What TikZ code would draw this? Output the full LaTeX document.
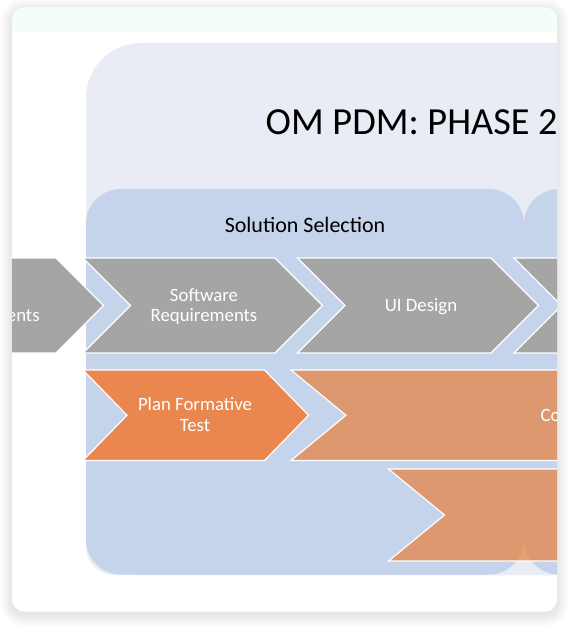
\documentclass[tikz,border=0pt]{standalone}
\usepackage{fontspec}
\setmainfont{Carlito}
\definecolor{cardtop}{HTML}{F4FCFC}
\definecolor{lav}{HTML}{E9ECF5}
\definecolor{pblue}{HTML}{C5D3EB}
\definecolor{cgray}{HTML}{A5A5A5}
\definecolor{corange}{HTML}{E9874F}
\definecolor{ocoral}{HTML}{EA7F3C}
\tikzset{
  chevshape/.style={draw=white, line width=1.2pt, line join=miter},
  graychev/.style={chevshape, fill=cgray},
  orangechev/.style={chevshape, fill=corange},
  coralchev/.style={chevshape, fill=ocoral, fill opacity=0.7},
  lab/.style={text=white, font=\fontsize{18.8}{22}\selectfont, inner sep=0pt},
  panellab/.style={text=black, font=\fontsize{22}{26}\selectfont, inner sep=0pt},
  titlelab/.style={text=black, font=\fontsize{38.3}{44}\selectfont, inner sep=0pt}
}
\begin{document}
\begin{tikzpicture}[x=1pt,y=-1pt]
\useasboundingbox (0,0) rectangle (569,628);
% soft shadow of the card
\foreach \i in {1,...,12}{
  \pgfmathsetmacro{\rr}{12+\i}
  \fill[black, opacity=0.009, rounded corners=\rr pt] (12-\i,7.5-\i+3) rectangle (557+\i,611.5+\i+3);
}
\begin{scope}
  \clip[rounded corners=12pt] (12,7.5) rectangle (557,611.5);
  \fill[white] (0,0) rectangle (569,628);
  \fill[cardtop] (0,0) rectangle (569,32.5);
  % outer phase panel
  \fill[lav, rounded corners=55pt] (86,43) rectangle (700,575);
  \fill[lav, rounded corners=28pt] (86,200) rectangle (700,575);
  % sub-phase panels
  \fill[pblue, rounded corners=35pt] (86,189) rectangle (524,574.5);
  \fill[pblue, rounded corners=35pt] (524,189) rectangle (900,574.5);
  % row 1 chevrons
  \draw[graychev] (-200,258) -- (56,258) -- (103.5,305.5) -- (56,353) -- (-200,353) -- cycle;
  \draw[graychev] (83,258) -- (275,258) -- (322.5,305.5) -- (275,353) -- (83,353) -- (130.5,305.5) -- cycle;
  \draw[graychev] (297.5,258) -- (491,258) -- (538.5,305.5) -- (491,353) -- (297.5,353) -- (345,305.5) -- cycle;
  \draw[graychev] (514,258) -- (800,258) -- (800,353) -- (514,353) -- (561.5,305.5) -- cycle;
  % row 2 chevrons
  \draw[orangechev] (83,370) -- (264.5,370) -- (308.5,415.25) -- (264.5,460.5) -- (83,460.5) -- (127,415.25) -- cycle;
  \draw[coralchev] (291,370) -- (800,370) -- (800,460.5) -- (291,460.5) -- (346,415.25) -- cycle;
  % row 3 chevron
  \draw[coralchev] (388.5,469) -- (800,469) -- (800,561) -- (388.5,561) -- (444.5,515) -- cycle;
  % texts
  \node[titlelab, anchor=base west] (title) at (265.5,135) {OM PDM: PHASE 2};
  \node[panellab, anchor=base] (solsel) at (305,232.3) {Solution Selection};
  \node[lab, anchor=base east] (ents) at (39.8,321.7) {ents};
  \node[lab, anchor=base] (sw1) at (204,301) {Software};
  \node[lab, anchor=base] (sw2) at (204,321.7) {Requirements};
  \node[lab, anchor=base] (ui) at (421,311.5) {UI Design};
  \node[lab, anchor=base] (pf1) at (195,410.7) {Plan Formative};
  \node[lab, anchor=base] (pf2) at (195,431.7) {Test};
  \node[lab, anchor=base west] (co) at (540.3,421.7) {Co};
\end{scope}
\end{tikzpicture}
\end{document}
